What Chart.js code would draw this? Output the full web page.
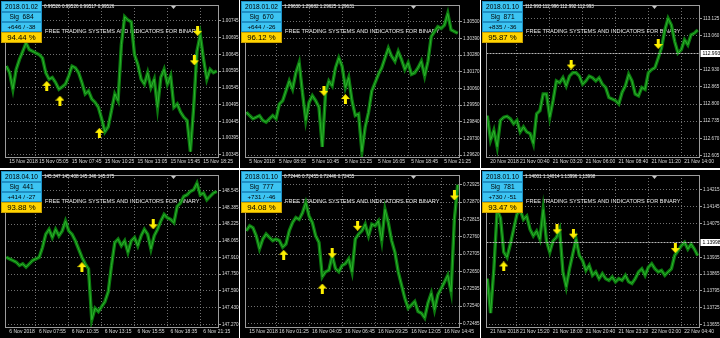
<!DOCTYPE html>
<html>
<head>
<meta charset="utf-8">
<script src="https://cdn.jsdelivr.net/npm/chart.js@4.4.1/dist/chart.umd.min.js"></script>
<style>
  html, body { margin: 0; padding: 0; background: #fff; }
  #board {
    display: grid;
    grid-template-columns: 239px 240px 239px;
    grid-template-rows: 168px 168px;
    column-gap: 1px;
    row-gap: 2px;
    width: 720px;
    height: 338px;
  }
  canvas { display: block; background: #000; }
</style>
</head>
<body>
<div id="board">
  <canvas id="c1" width="239" height="168"></canvas>
  <canvas id="c2" width="240" height="168"></canvas>
  <canvas id="c3" width="239" height="168"></canvas>
  <canvas id="c4" width="239" height="168"></canvas>
  <canvas id="c5" width="240" height="168"></canvas>
  <canvas id="c6" width="239" height="168"></canvas>
</div>
<script>
// bar index where each time label sits (same layout on every chart)
const timeTickIdx = [0, 9, 19, 29, 39, 49, 59];
const bannerText = 'FREE TRADING SYSTEMS AND INDICATORS FOR BINARY';

// ---- chart 1 ----
const p1Time = ['15 Nov 2018', '15 Nov 05:05', '15 Nov 07:45', '15 Nov 10:25', '15 Nov 13:05', '15 Nov 15:45', '15 Nov 18:25'];
const p1Levels = [1.00745, 1.00695, 1.00645, 1.00595, 1.00545, 1.00495, 1.00445, 1.00395, 1.00345];
const p1Price = [
  1.00610, 1.00590, 1.00541, 1.00600, 1.00630, 1.00654, 1.00679, 1.00659, 1.00654, 1.00649,
  1.00644, 1.00634, 1.00590, 1.00571, 1.00576, 1.00561, 1.00541, 1.00548, 1.00556, 1.00581,
  1.00610, 1.00605, 1.00590, 1.00561, 1.00527, 1.00536, 1.00512, 1.00502, 1.00487, 1.00453,
  1.00414, 1.00429, 1.00478, 1.00527, 1.00507, 1.00674, 1.00757, 1.00747, 1.00742, 1.00644,
  1.00615, 1.00571, 1.00556, 1.00590, 1.00546, 1.00571, 1.00487, 1.00576, 1.00600, 1.00556,
  1.00581, 1.00487, 1.00497, 1.00473, 1.00458, 1.00448, 1.00355, 1.00487, 1.00654, 1.00703,
  1.00630, 1.00571, 1.00600, 1.00590, 1.00595
];
const p1Up = [[12.3, 1.00551], [16.3, 1.00507], [28.3, 1.00411]];
const p1Down = [[58.2, 1.00715], [57.2, 1.00627]];
const p1Quote = '0.99526 0.99526 0.99517 0.99526';
const p1Stats = ['2018.01.02', 'Sig  684', '+646 / -38', '94.44 %'];

// ---- chart 2 ----
const p2Time = ['5 Nov 2018', '5 Nov 08:05', '5 Nov 10:45', '5 Nov 13:25', '5 Nov 16:05', '5 Nov 18:45', '5 Nov 21:25'];
const p2Levels = [1.30500, 1.30390, 1.30280, 1.30170, 1.30060, 1.29950, 1.29840, 1.29730, 1.29620];
const p2Price = [
  1.29903, 1.29881, 1.29860, 1.29870, 1.29881, 1.29849, 1.29838, 1.29860, 1.29881, 1.29860,
  1.29957, 1.29979, 1.30044, 1.30109, 1.30055, 1.30163, 1.30229, 1.30033, 1.29849, 1.29968,
  1.30012, 1.29979, 1.29936, 1.29675, 1.30033, 1.30109, 1.30077, 1.30196, 1.30261, 1.30207,
  1.30066, 1.30131, 1.29979, 1.29881, 1.29892, 1.29643, 1.29805, 1.29903, 1.30044, 1.30098,
  1.30153, 1.30196, 1.30261, 1.30326, 1.30272, 1.30239, 1.30304, 1.30250, 1.30185, 1.30229,
  1.30153, 1.30163, 1.30196, 1.30239, 1.30142, 1.30239, 1.30402, 1.30435, 1.30467, 1.30456,
  1.30478, 1.30554, 1.30446, 1.30435, 1.30424
];
const p2Up = [[30.0, 1.29990]];
const p2Down = [[23.5, 1.30044]];
const p2Quote = '1.29630 1.29682 1.29625 1.29631';
const p2Stats = ['2018.01.02', 'Sig  670', '+644 / -26', '96.12 %'];

// ---- chart 3 ----
const p3Time = ['20 Nov 2018', '21 Nov 00:40', '21 Nov 03:20', '21 Nov 06:00', '21 Nov 08:40', '21 Nov 11:20', '21 Nov 14:00'];
const p3Levels = [113.125, 113.060, 112.930, 112.865, 112.800, 112.735, 112.670, 112.605];
const p3Price = [
  112.756, 112.663, 112.700, 112.638, 112.738, 112.750, 112.753, 112.744, 112.725, 112.738,
  112.694, 112.713, 112.694, 112.688, 112.650, 112.763, 112.775, 112.838, 112.838, 112.750,
  112.813, 112.888, 112.881, 112.900, 112.869, 112.906, 112.919, 112.919, 112.906, 112.875,
  112.888, 112.906, 112.900, 112.888, 112.900, 112.875, 112.863, 112.825, 112.819, 112.813,
  112.800, 112.844, 112.869, 112.913, 112.888, 112.838, 112.831, 112.863, 112.856, 112.919,
  112.931, 112.938, 112.975, 113.013, 113.081, 113.125, 113.100, 113.038, 112.994, 113.006,
  113.044, 113.025, 113.063, 113.069, 113.081
];
const p3Up = [];
const p3Down = [[25.5, 112.950], [52.0, 113.028]];
const p3Quote = '112.993 112.996 112.992 112.993';
const p3Stats = ['2018.01.10', 'Sig  871', '+835 / -36', '95.87 %'];
const p3Last = 112.993;

// ---- chart 4 ----
const p4Time = ['6 Nov 2018', '6 Nov 07:55', '6 Nov 10:35', '6 Nov 13:15', '6 Nov 15:55', '6 Nov 18:35', '6 Nov 21:15'];
const p4Levels = [148.545, 148.385, 148.225, 148.065, 147.910, 147.750, 147.590, 147.430, 147.270];
const p4Price = [
  147.911, 147.895, 147.880, 147.864, 147.832, 147.848, 147.817, 147.848, 147.880, 147.895,
  147.911, 148.004, 148.129, 148.176, 148.098, 148.176, 148.114, 148.161, 148.254, 148.161,
  148.129, 148.067, 147.989, 147.911, 147.848, 147.801, 147.317, 147.426, 147.395, 147.442,
  147.489, 147.582, 147.832, 148.051, 148.082, 148.020, 148.067, 147.957, 148.067, 148.098,
  148.020, 148.114, 148.176, 148.129, 147.989, 148.114, 148.176, 148.254, 148.317, 148.286,
  148.270, 148.239, 148.395, 148.426, 148.489, 148.504, 148.536, 148.551, 148.614, 148.504,
  148.520, 148.457, 148.489, 148.520, 148.536
];
const p4Up = [[23.0, 147.817]];
const p4Down = [[44.7, 148.223]];
const p4Quote = '145.347 145.408 145.346 145.375';
const p4Stats = ['2018.04.10', 'Sig  441', '+414 / -27', '93.88 %'];

// ---- chart 5 ----
const p5Time = ['15 Nov 2018', '16 Nov 01:25', '16 Nov 04:05', '16 Nov 06:45', '16 Nov 09:25', '16 Nov 12:05', '16 Nov 14:45'];
const p5Levels = [0.72925, 0.72870, 0.72815, 0.72760, 0.72705, 0.72650, 0.72595, 0.72540, 0.72485];
const p5Price = [
  0.72779, 0.72795, 0.72789, 0.72763, 0.72722, 0.72753, 0.72769, 0.72758, 0.72748, 0.72753,
  0.72748, 0.72727, 0.72737, 0.72779, 0.72805, 0.72821, 0.72815, 0.72836, 0.72868, 0.72826,
  0.72805, 0.72763, 0.72742, 0.72633, 0.72649, 0.72654, 0.72701, 0.72659, 0.72649, 0.72669,
  0.72675, 0.72690, 0.72649, 0.72753, 0.72769, 0.72779, 0.72800, 0.72763, 0.72800, 0.72795,
  0.72810, 0.72748, 0.72847, 0.72805, 0.72748, 0.72711, 0.72649, 0.72607, 0.72565, 0.72534,
  0.72544, 0.72555, 0.72523, 0.72518, 0.72503, 0.72550, 0.72581, 0.72529, 0.72576, 0.72596,
  0.72617, 0.72638, 0.72586, 0.72815, 0.72925
];
const p5Up = [[11.3, 0.72703], [23.0, 0.72596]];
const p5Down = [[26.0, 0.72708], [33.7, 0.72795], [63.0, 0.72891]];
const p5Quote = '0.72446 0.72455 0.72446 0.72455';
const p5Stats = ['2018.01.10', 'Sig  777', '+731 / -46', '94.08 %'];

// ---- chart 6 ----
const p6Time = ['21 Nov 2018', '21 Nov 15:20', '21 Nov 18:00', '21 Nov 20:40', '21 Nov 23:20', '22 Nov 02:00', '22 Nov 04:40'];
const p6Levels = [1.14215, 1.14145, 1.14075, 1.13935, 1.13865, 1.13795, 1.13725, 1.13655];
const p6Price = [
  1.13846, 1.13703, 1.13887, 1.14133, 1.14099, 1.13956, 1.13935, 1.13990, 1.14051, 1.14113,
  1.14133, 1.14092, 1.14106, 1.14051, 1.14024, 1.14044, 1.14010, 1.14133, 1.14003, 1.13956,
  1.14003, 1.14017, 1.14051, 1.13874, 1.13812, 1.13887, 1.13949, 1.14010, 1.13942, 1.13921,
  1.13880, 1.13901, 1.13860, 1.13874, 1.13846, 1.13867, 1.13846, 1.13839, 1.13853, 1.13833,
  1.13846, 1.13839, 1.13860, 1.13833, 1.13826, 1.13846, 1.13874, 1.13887, 1.13860, 1.13894,
  1.13908, 1.13887, 1.13874, 1.13880, 1.13860, 1.13874, 1.13887, 1.13942, 1.13962, 1.13983,
  1.13997, 1.13969, 1.13990, 1.13969, 1.13942
];
const p6Up = [[5.0, 1.13897]];
const p6Down = [[21.2, 1.14051], [26.2, 1.14033], [57.2, 1.13973]];
const p6Quote = '1.14001 1.14014 1.13996 1.13998';
const p6Stats = ['2018.01.10', 'Sig  781', '+730 / -51', '93.47 %'];
const p6Last = 1.13998;

const gridColor = 'rgba(150,150,150,0.75)';
const frameColor = '#9c9c9c';
const axisFont = { size: 5, family: 'Liberation Sans' };

// yellow signal arrows used as point images
function makeArrow(up) {
  const c = document.createElement('canvas');
  c.width = 9;
  c.height = 10;
  const g = c.getContext('2d');
  g.fillStyle = '#fff000';
  g.beginPath();
  if (up) {
    g.moveTo(4.5, 0); g.lineTo(9, 5); g.lineTo(6, 5); g.lineTo(6, 10);
    g.lineTo(3, 10); g.lineTo(3, 5); g.lineTo(0, 5);
  } else {
    g.moveTo(4.5, 10); g.lineTo(9, 5); g.lineTo(6, 5); g.lineTo(6, 0);
    g.lineTo(3, 0); g.lineTo(3, 5); g.lineTo(0, 5);
  }
  g.closePath();
  g.fill();
  return c;
}
const arrowUp = makeArrow(true);
const arrowDown = makeArrow(false);

// banner, frame, last price marker and signal stats box
const terminal = {
  id: 'terminal',
  beforeDatasetsDraw(chart, args, o) {
    const ctx = chart.ctx;
    ctx.save();
    ctx.fillStyle = '#ececec';
    ctx.font = '5.6px "Liberation Sans"';
    ctx.textBaseline = 'middle';
    ctx.fillText(bannerText, 45, 31, 170);
    ctx.restore();
  },
  afterDraw(chart, args, o) {
    const { ctx, chartArea: a, scales: { y } } = chart;
    const l = Math.floor(a.left) + 0.5, t = Math.floor(a.top) + 0.5;
    const r = Math.floor(a.right) + 0.5, b = Math.floor(a.bottom) + 0.5;
    ctx.save();

    if (o.last) {
      const py = Math.round(y.getPixelForValue(o.last)) + 0.5;
      ctx.strokeStyle = '#b8b8b8';
      ctx.lineWidth = 1;
      ctx.setLineDash([2, 1]);
      ctx.beginPath();
      ctx.moveTo(l, py);
      ctx.lineTo(r, py);
      ctx.stroke();
      ctx.setLineDash([]);
      ctx.fillStyle = '#ffffff';
      ctx.fillRect(r + 1, py - 3.5, 20, 7);
      ctx.fillStyle = '#000000';
      ctx.font = '5px "Liberation Sans"';
      ctx.textBaseline = 'middle';
      ctx.fillText(o.last.toFixed(o.digits), r + 3, py + 0.3);
    }

    ctx.strokeStyle = frameColor;
    ctx.lineWidth = 1;
    ctx.strokeRect(l, t, r - l, b - t);

    // chart shift marker
    ctx.fillStyle = '#c8c8c8';
    ctx.beginPath();
    ctx.moveTo(171, t + 0.5);
    ctx.lineTo(176, t + 0.5);
    ctx.lineTo(173.5, t + 3.5);
    ctx.closePath();
    ctx.fill();

    ctx.fillStyle = '#f4f4f4';
    ctx.font = '4.6px "Liberation Sans"';
    ctx.textBaseline = 'middle';
    ctx.textAlign = 'left';
    ctx.fillText(o.quote, 44, 6.5);

    const rows = [[1, 11, 6.6], [12, 10, 6.6], [22, 10, 6.2], [32, 11, 7.8]];
    rows.forEach((row, i) => {
      ctx.fillStyle = i === 3 ? '#ffd400' : '#3cc4f2';
      ctx.fillRect(1, row[0], 41, row[1]);
      ctx.strokeStyle = i === 3 ? '#c9a000' : '#1f8fc4';
      ctx.strokeRect(1.5, row[0] + 0.5, 40, row[1] - 1);
      ctx.fillStyle = '#000000';
      ctx.font = row[2] + 'px "Liberation Sans"';
      ctx.textAlign = 'center';
      ctx.fillText(o.stats[i], 21.5, row[0] + row[1] / 2 + 0.5);
    });
    ctx.restore();
  }
};

function terminalChart(id, p) {
  const series = p.price.map((v, i) => ({ x: i, y: v }));
  new Chart(document.getElementById(id), {
    type: 'line',
    data: {
      datasets: [
        { data: p.up.map(s => ({ x: s[0], y: s[1] })), showLine: false, pointStyle: arrowUp, pointRadius: 4 },
        { data: p.down.map(s => ({ x: s[0], y: s[1] })), showLine: false, pointStyle: arrowDown, pointRadius: 4 },
        { data: series, borderColor: '#2cb42c', borderWidth: 1, pointRadius: 0, tension: 0 },
        { data: series, borderColor: '#0c7a0f', borderWidth: 3.4, pointRadius: 0, tension: 0 }
      ]
    },
    options: {
      responsive: false,
      animation: false,
      devicePixelRatio: 1,
      events: [],
      layout: { padding: { left: 2, top: 3, right: 0, bottom: 0 } },
      plugins: {
        legend: { display: false },
        tooltip: { enabled: false },
        terminal: { quote: p.quote, stats: p.stats, last: p.last, digits: p.digits }
      },
      scales: {
        x: {
          type: 'linear',
          min: -0.4,
          max: 64.4,
          afterBuildTicks: s => { s.ticks = timeTickIdx.map(v => ({ value: v })); },
          afterFit: s => { s.height = 11; },
          ticks: {
            callback: (v, i) => p.time[i],
            align: 'start',
            labelOffset: 3,
            padding: 2,
            maxRotation: 0,
            autoSkip: false,
            color: '#dcdcdc',
            font: axisFont
          },
          grid: { color: c => c.index === 0 ? 'rgba(0,0,0,0)' : gridColor, drawTicks: false },
          border: { display: false, dash: [1, 2] }
        },
        y: {
          position: 'right',
          min: p.range[0],
          max: p.range[1],
          afterBuildTicks: s => { s.ticks = p.levels.map(v => ({ value: v })); },
          afterFit: s => { s.width = 21; },
          ticks: {
            callback: v => v.toFixed(p.digits),
            padding: 1,
            color: '#dcdcdc',
            font: { size: 4.6, family: 'Liberation Sans' }
          },
          grid: { color: gridColor, tickColor: frameColor, tickLength: 3, tickBorderDash: [] },
          border: { display: false, dash: [1, 2] }
        }
      }
    },
    plugins: [terminal]
  });
}

terminalChart('c1', { price: p1Price, levels: p1Levels, time: p1Time, up: p1Up, down: p1Down, quote: p1Quote, stats: p1Stats, digits: 5, range: [1.00339, 1.00792] });
terminalChart('c2', { price: p2Price, levels: p2Levels, time: p2Time, up: p2Up, down: p2Down, quote: p2Quote, stats: p2Stats, digits: 5, range: [1.29608, 1.30610] });
terminalChart('c3', { price: p3Price, levels: p3Levels, time: p3Time, up: p3Up, down: p3Down, quote: p3Quote, stats: p3Stats, digits: 3, range: [112.599, 113.176], last: p3Last });
terminalChart('c4', { price: p4Price, levels: p4Levels, time: p4Time, up: p4Up, down: p4Down, quote: p4Quote, stats: p4Stats, digits: 3, range: [147.248, 148.692] });
terminalChart('c5', { price: p5Price, levels: p5Levels, time: p5Time, up: p5Up, down: p5Down, quote: p5Quote, stats: p5Stats, digits: 5, range: [0.72474, 0.72956] });
terminalChart('c6', { price: p6Price, levels: p6Levels, time: p6Time, up: p6Up, down: p6Down, quote: p6Quote, stats: p6Stats, digits: 5, range: [1.13645, 1.14277], last: p6Last });
</script>
</body>
</html>
